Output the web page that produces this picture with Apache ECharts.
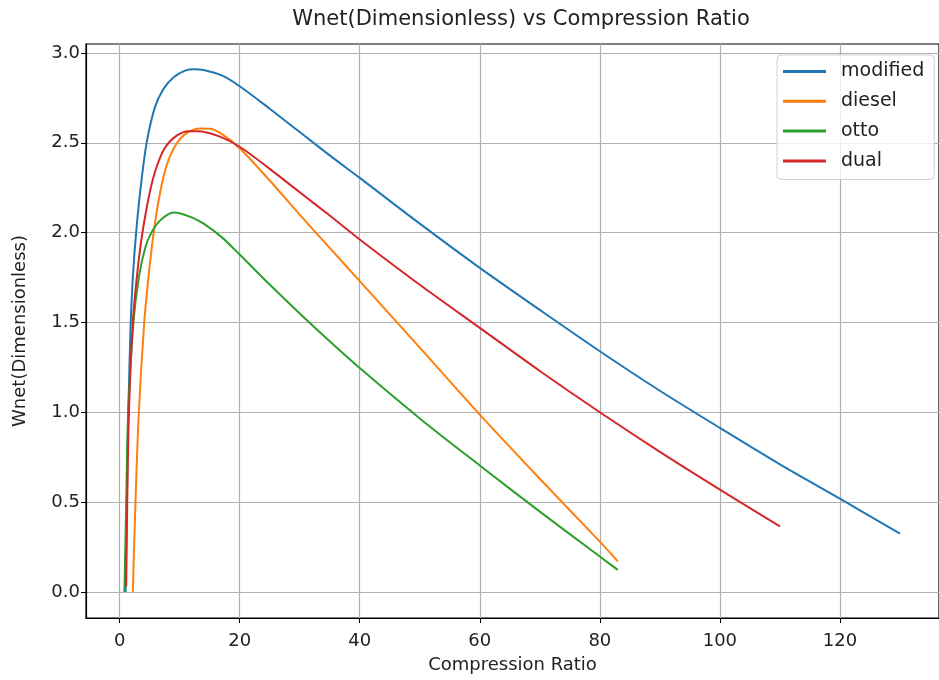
<!DOCTYPE html>
<html>
<head>
<meta charset="utf-8">
<script src="https://cdn.jsdelivr.net/npm/echarts@6/dist/echarts.min.js"></script>
<style>
  html, body { margin: 0; padding: 0; background: #fff; }
  #chart { width: 939px; height: 680px; }
</style>
</head>
<body>
<div id="chart"></div>
<script>
// values
const modifiedX = [1.0, 1.2, 1.45, 1.85, 2.2, 2.75, 3.5, 4.5, 5.9, 7.3, 9, 11, 12.5, 14, 17, 20, 25, 30, 35, 40, 50, 60, 70, 80, 90, 100, 110, 120, 130]
const modifiedY = [0, 0.5, 1.0, 1.5, 1.75, 2.0, 2.25, 2.5, 2.7, 2.8, 2.865, 2.903, 2.91, 2.905, 2.875, 2.815, 2.69, 2.56, 2.43, 2.305, 2.05, 1.804, 1.57, 1.34, 1.12, 0.913, 0.71, 0.519, 0.325]

const dieselX = [2.2, 2.64, 3.2, 4.1, 4.8, 5.6, 6.5, 7.7, 9.2, 11.2, 13.5, 15, 17, 20, 25, 30, 35, 40, 50, 60, 70, 80, 83]
const dieselY = [0, 0.5, 1.0, 1.5, 1.75, 1.98, 2.18, 2.36, 2.48, 2.555, 2.58, 2.578, 2.55, 2.47, 2.29, 2.1, 1.915, 1.73, 1.36, 0.987, 0.63, 0.28, 0.17]

const ottoX = [0.8, 1.1, 1.43, 2.3, 3.2, 4.3, 5.3, 6.5, 8, 9, 10, 12, 14, 17, 20, 25, 30, 35, 40, 50, 60, 70, 80, 83]
const ottoY = [0, 0.5, 1.0, 1.5, 1.75, 1.92, 2.0, 2.06, 2.1, 2.112, 2.108, 2.085, 2.05, 1.975, 1.878, 1.711, 1.55, 1.395, 1.246, 0.966, 0.704, 0.447, 0.197, 0.123]

const dualX = [1.1, 1.27, 1.55, 2.2, 2.8, 3.5, 4.2, 5.0, 6.0, 7.5, 9.5, 11.5, 13, 16.5, 20, 25, 30, 35, 40, 50, 60, 70, 80, 90, 100, 110]
const dualY = [0.03, 0.5, 1.0, 1.5, 1.73, 1.93, 2.08, 2.22, 2.35, 2.47, 2.54, 2.565, 2.565, 2.537, 2.478, 2.355, 2.225, 2.095, 1.962, 1.71, 1.47, 1.23, 1.0, 0.78, 0.57, 0.365]

const xTicks = [0, 20, 40, 60, 80, 100, 120]
const yTicks = [0, 0.5, 1.0, 1.5, 2.0, 2.5, 3.0]

const seriesNames = ['modified', 'diesel', 'otto', 'dual']
const seriesColors = ['#1f77b4', '#ff7f0e', '#2ca02c', '#d62728']

const FONT = 'DejaVu Sans'

function zip(xs, ys) {
  return xs.map((x, i) => [x, ys[i]])
}

const allData = [
  zip(modifiedX, modifiedY),
  zip(dieselX, dieselY),
  zip(ottoX, ottoY),
  zip(dualX, dualY)
]

const chart = echarts.init(document.getElementById('chart'), null, { renderer: 'canvas' })

const option = {
  animation: false,
  backgroundColor: '#fff',
  color: seriesColors,
  title: {
    text: 'Wnet(Dimensionless) vs Compression Ratio',
    left: 516,
    top: 4,
    textAlign: 'center',
    textStyle: { fontFamily: FONT, fontSize: 21, fontWeight: 'normal', color: '#222' }
  },
  legend: {
    orient: 'vertical',
    left: 777,
    top: 55,
    data: seriesNames,
    icon: 'rect',
    itemWidth: 43,
    itemHeight: 3,
    itemGap: 8.8,
    padding: [6, 10, 8, 6],
    backgroundColor: 'rgba(255,255,255,0.8)',
    borderColor: '#d0d0d0',
    borderWidth: 1,
    borderRadius: 4,
    textStyle: { fontFamily: FONT, fontSize: 19, color: '#222', padding: [0, 0, 0, 10], lineHeight: 21 }
  },
  grid: {
    left: 86,
    right: -9,
    top: 44,
    bottom: 62,
    show: true,
    borderColor: '#000',
    borderWidth: 1.2
  },
  xAxis: {
    type: 'value',
    min: -5.6,
    max: 136.5,
    splitNumber: 7,
    name: 'Compression Ratio',
    nameLocation: 'middle',
    nameGap: 38,
    nameTextStyle: { fontFamily: FONT, fontSize: 18, color: '#222' },
    axisLine: { onZero: false, lineStyle: { color: '#000', width: 1.2 } },
    axisTick: { show: true, inside: false, length: 5, customValues: xTicks, lineStyle: { color: '#000' } },
    axisLabel: {
      customValues: xTicks,
      margin: 14,
      fontFamily: FONT, fontSize: 18, color: '#222'
    },
    splitLine: { show: true, lineStyle: { color: '#b0b0b0', width: 1.2 } }
  },
  yAxis: {
    type: 'value',
    min: -0.145,
    max: 3.05,
    splitNumber: 6,
    name: 'Wnet(Dimensionless)',
    nameLocation: 'middle',
    nameGap: 57,
    nameTextStyle: { fontFamily: FONT, fontSize: 18, color: '#222' },
    axisLine: { show: true, onZero: false, lineStyle: { color: '#000', width: 1.2 } },
    axisTick: { show: true, inside: false, length: 5, customValues: yTicks, lineStyle: { color: '#000' } },
    axisLabel: {
      customValues: yTicks,
      margin: 6,
      fontFamily: FONT, fontSize: 18, color: '#222',
      formatter: (v) => v.toFixed(1)
    },
    splitLine: { show: true, lineStyle: { color: '#b0b0b0', width: 1.2 } }
  },
  series: seriesNames.map((name, i) => ({
    name: name,
    type: 'line',
    data: allData[i],
    showSymbol: false,
    smooth: 0.3,
    lineStyle: { width: 2, color: seriesColors[i] },
    itemStyle: { color: seriesColors[i] }
  }))
}

chart.setOption(option)
</script>
</body>
</html>
